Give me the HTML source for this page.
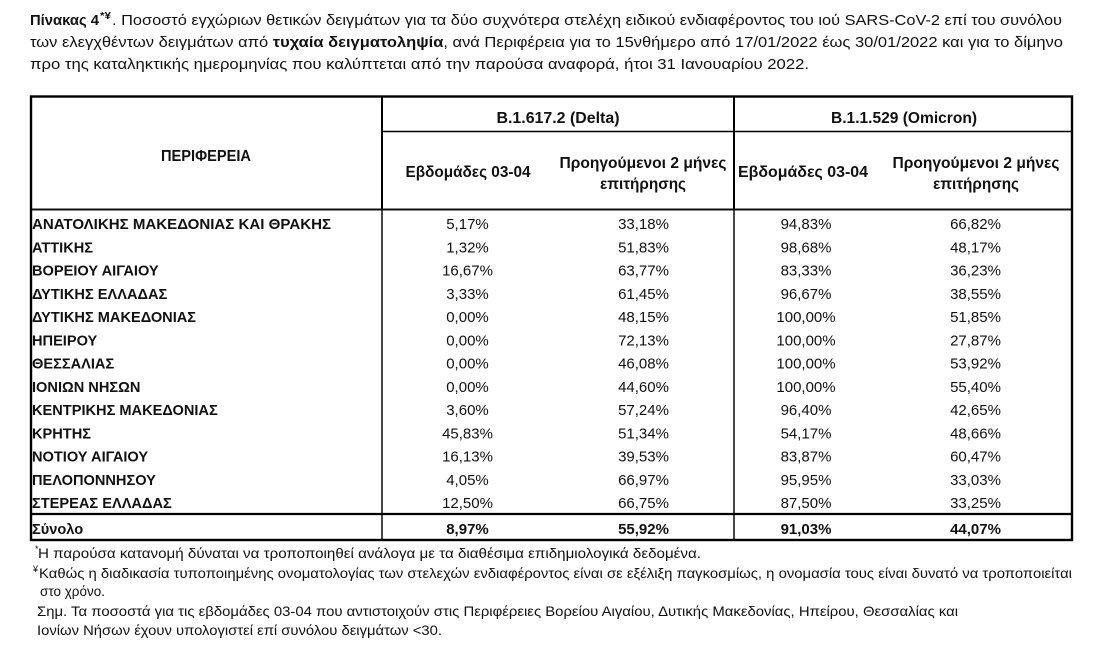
<!DOCTYPE html>
<html>
<head>
<meta charset="utf-8">
<style>
html,body{margin:0;padding:0;background:#fff;}
svg{display:block;}
text{font-family:"Liberation Sans","DejaVu Sans",sans-serif;fill:#111;}
.b{font-weight:bold;}
.t{font-size:15px;}
.h{font-size:15.5px;font-weight:bold;}
.r{font-size:14.6px;font-weight:bold;}
.d{font-size:15px;}
.f{font-size:14px;}
</style>
</head>
<body>
<svg width="1100" height="656" viewBox="0 0 1100 656" xmlns="http://www.w3.org/2000/svg">
<rect x="0" y="0" width="1100" height="656" fill="#fff"/>

<!-- Title -->
<text class="t b" x="30" y="25" textLength="69" lengthAdjust="spacingAndGlyphs">Πίνακας 4</text>
<text class="b" x="100" y="19" style="font-size:10px" textLength="11" lengthAdjust="spacingAndGlyphs">*¥</text>
<text class="t" x="112" y="25" textLength="950" lengthAdjust="spacingAndGlyphs">. Ποσοστό εγχώριων θετικών δειγμάτων για τα δύο συχνότερα στελέχη ειδικού ενδιαφέροντος του ιού SARS-CoV-2 επί του συνόλου</text>

<text class="t" x="30" y="47" textLength="1033" lengthAdjust="spacingAndGlyphs">των ελεγχθέντων δειγμάτων από <tspan font-weight="bold">τυχαία δειγματοληψία</tspan>, ανά Περιφέρεια για το 15νθήμερο από 17/01/2022 έως 30/01/2022 και για το δίμηνο</text>

<text class="t" x="30" y="69" textLength="779" lengthAdjust="spacingAndGlyphs">προ της καταληκτικής ημερομηνίας που καλύπτεται από την παρούσα αναφορά, ήτοι 31 Ιανουαρίου 2022.</text>

<!-- Table lines -->
<line x1="382" y1="209" x2="382" y2="540" stroke="#333" stroke-width="1.8"/>
<line x1="734" y1="209" x2="734" y2="540" stroke="#333" stroke-width="1.8"/>
<line x1="382" y1="96" x2="382" y2="210" stroke="#000" stroke-width="2"/>
<line x1="734" y1="96" x2="734" y2="210" stroke="#000" stroke-width="2"/>
<line x1="382" y1="131.5" x2="1073" y2="131.5" stroke="#000" stroke-width="1.6"/>
<line x1="30" y1="209.5" x2="1073" y2="209.5" stroke="#111" stroke-width="2"/>
<line x1="30" y1="514" x2="1073" y2="514" stroke="#000" stroke-width="2.2"/>
<rect x="31" y="96.5" width="1041" height="443.5" fill="none" stroke="#000" stroke-width="2.4"/>

<!-- Header -->
<text class="h" x="206" y="161" text-anchor="middle" textLength="90" lengthAdjust="spacingAndGlyphs">ΠΕΡΙΦΕΡΕΙΑ</text>
<text class="h" x="558" y="123" text-anchor="middle" textLength="123" lengthAdjust="spacingAndGlyphs">B.1.617.2 (Delta)</text>
<text class="h" x="904" y="123" text-anchor="middle" textLength="146" lengthAdjust="spacingAndGlyphs">B.1.1.529 (Omicron)</text>

<text class="h" x="468" y="177" text-anchor="middle" textLength="125" lengthAdjust="spacingAndGlyphs">Εβδομάδες 03-04</text>
<text class="h" x="643" y="168" text-anchor="middle" textLength="167" lengthAdjust="spacingAndGlyphs">Προηγούμενοι 2 μήνες</text>
<text class="h" x="643" y="189" text-anchor="middle" textLength="86" lengthAdjust="spacingAndGlyphs">επιτήρησης</text>

<text class="h" x="803" y="177" text-anchor="middle" textLength="130" lengthAdjust="spacingAndGlyphs">Εβδομάδες 03-04</text>
<text class="h" x="976" y="168" text-anchor="middle" textLength="167" lengthAdjust="spacingAndGlyphs">Προηγούμενοι 2 μήνες</text>
<text class="h" x="976" y="189" text-anchor="middle" textLength="86" lengthAdjust="spacingAndGlyphs">επιτήρησης</text>

<!-- Rows -->
<g class="r">
<text x="32" y="229" textLength="299" lengthAdjust="spacingAndGlyphs">ΑΝΑΤΟΛΙΚΗΣ ΜΑΚΕΔΟΝΙΑΣ ΚΑΙ ΘΡΑΚΗΣ</text>
<text x="32" y="252.25">ΑΤΤΙΚΗΣ</text>
<text x="32" y="275.5">ΒΟΡΕΙΟΥ ΑΙΓΑΙΟΥ</text>
<text x="32" y="298.75">ΔΥΤΙΚΗΣ ΕΛΛΑΔΑΣ</text>
<text x="32" y="322">ΔΥΤΙΚΗΣ ΜΑΚΕΔΟΝΙΑΣ</text>
<text x="32" y="345.25">ΗΠΕΙΡΟΥ</text>
<text x="32" y="368.5">ΘΕΣΣΑΛΙΑΣ</text>
<text x="32" y="391.75">ΙΟΝΙΩΝ ΝΗΣΩΝ</text>
<text x="32" y="415">ΚΕΝΤΡΙΚΗΣ ΜΑΚΕΔΟΝΙΑΣ</text>
<text x="32" y="438.25">ΚΡΗΤΗΣ</text>
<text x="32" y="461.5">ΝΟΤΙΟΥ ΑΙΓΑΙΟΥ</text>
<text x="32" y="484.75">ΠΕΛΟΠΟΝΝΗΣΟΥ</text>
<text x="32" y="508">ΣΤΕΡΕΑΣ ΕΛΛΑΔΑΣ</text>
<text x="32" y="534">Σύνολο</text>
</g>

<g class="d" text-anchor="middle">
<text x="467.5" y="229">5,17%</text><text x="643.5" y="229">33,18%</text><text x="806" y="229">94,83%</text><text x="975.5" y="229">66,82%</text>
<text x="467.5" y="252.25">1,32%</text><text x="643.5" y="252.25">51,83%</text><text x="806" y="252.25">98,68%</text><text x="975.5" y="252.25">48,17%</text>
<text x="467.5" y="275.5">16,67%</text><text x="643.5" y="275.5">63,77%</text><text x="806" y="275.5">83,33%</text><text x="975.5" y="275.5">36,23%</text>
<text x="467.5" y="298.75">3,33%</text><text x="643.5" y="298.75">61,45%</text><text x="806" y="298.75">96,67%</text><text x="975.5" y="298.75">38,55%</text>
<text x="467.5" y="322">0,00%</text><text x="643.5" y="322">48,15%</text><text x="806" y="322">100,00%</text><text x="975.5" y="322">51,85%</text>
<text x="467.5" y="345.25">0,00%</text><text x="643.5" y="345.25">72,13%</text><text x="806" y="345.25">100,00%</text><text x="975.5" y="345.25">27,87%</text>
<text x="467.5" y="368.5">0,00%</text><text x="643.5" y="368.5">46,08%</text><text x="806" y="368.5">100,00%</text><text x="975.5" y="368.5">53,92%</text>
<text x="467.5" y="391.75">0,00%</text><text x="643.5" y="391.75">44,60%</text><text x="806" y="391.75">100,00%</text><text x="975.5" y="391.75">55,40%</text>
<text x="467.5" y="415">3,60%</text><text x="643.5" y="415">57,24%</text><text x="806" y="415">96,40%</text><text x="975.5" y="415">42,65%</text>
<text x="467.5" y="438.25">45,83%</text><text x="643.5" y="438.25">51,34%</text><text x="806" y="438.25">54,17%</text><text x="975.5" y="438.25">48,66%</text>
<text x="467.5" y="461.5">16,13%</text><text x="643.5" y="461.5">39,53%</text><text x="806" y="461.5">83,87%</text><text x="975.5" y="461.5">60,47%</text>
<text x="467.5" y="484.75">4,05%</text><text x="643.5" y="484.75">66,97%</text><text x="806" y="484.75">95,95%</text><text x="975.5" y="484.75">33,03%</text>
<text x="467.5" y="508">12,50%</text><text x="643.5" y="508">66,75%</text><text x="806" y="508">87,50%</text><text x="975.5" y="508">33,25%</text>
<g class="b">
<text x="467.5" y="534">8,97%</text><text x="643.5" y="534">55,92%</text><text x="806" y="534">91,03%</text><text x="975.5" y="534">44,07%</text>
</g>
</g>

<!-- Footnotes -->
<text x="35" y="552" style="font-size:9px">*</text>
<text class="f" x="38" y="558" textLength="663" lengthAdjust="spacingAndGlyphs">Η παρούσα κατανομή δύναται να τροποποιηθεί ανάλογα με τα διαθέσιμα επιδημιολογικά δεδομένα.</text>
<text x="33" y="572" style="font-size:9px">¥</text>
<text class="f" x="39" y="578" textLength="1033" lengthAdjust="spacingAndGlyphs">Καθώς η διαδικασία τυποποιημένης ονοματολογίας των στελεχών ενδιαφέροντος είναι σε εξέλιξη παγκοσμίως, η ονομασία τους είναι δυνατό να τροποποιείται</text>
<text class="f" x="40" y="596" textLength="65" lengthAdjust="spacingAndGlyphs">στο χρόνο.</text>
<text class="f" x="37" y="616" textLength="921" lengthAdjust="spacingAndGlyphs">Σημ. Τα ποσοστά για τις εβδομάδες 03-04 που αντιστοιχούν στις Περιφέρειες Βορείου Αιγαίου, Δυτικής Μακεδονίας, Ηπείρου, Θεσσαλίας και</text>
<text class="f" x="37" y="635" textLength="405" lengthAdjust="spacingAndGlyphs">Ιονίων Νήσων έχουν υπολογιστεί επί συνόλου δειγμάτων &lt;30.</text>
</svg>
</body>
</html>
